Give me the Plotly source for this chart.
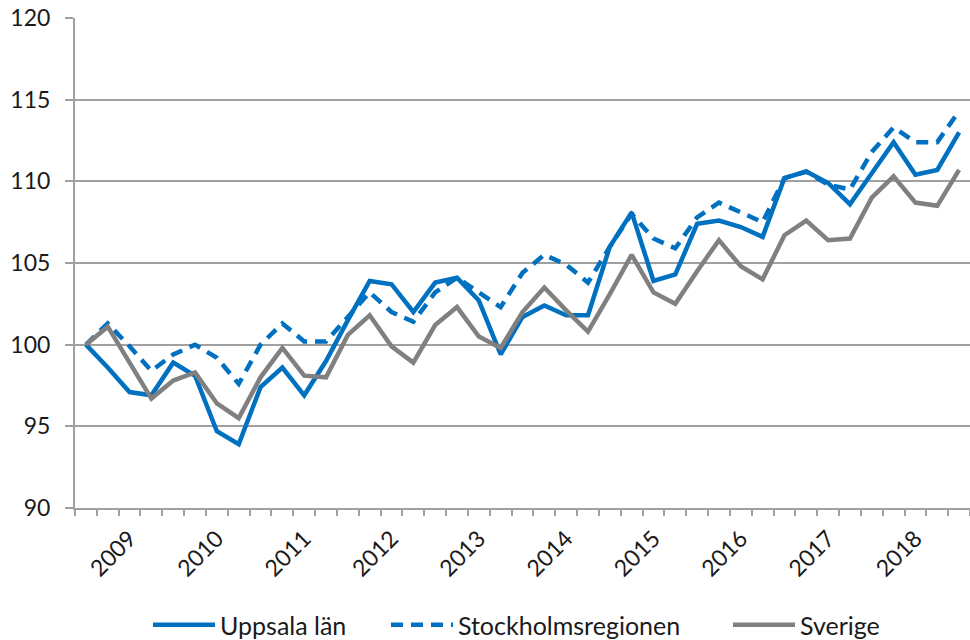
import plotly.graph_objects as go

# Kvartalsindex, 2008 K4 = 100 (41 kvartal)
years = ["2009", "2010", "2011", "2012", "2013", "2014", "2015", "2016", "2017", "2018"]

uppsala = [100, 98.6, 97.1, 96.9, 98.9, 98.1, 94.7, 93.9, 97.4, 98.6,
           96.9, 99.0, 101.5, 103.9, 103.7, 102.0, 103.8, 104.1, 102.7, 99.4,
           101.7, 102.4, 101.8, 101.8, 106.0, 108.1, 103.9, 104.3, 107.4, 107.6,
           107.2, 106.6, 110.2, 110.6, 109.9, 108.6, 110.5, 112.4, 110.4, 110.7,
           113.0]

stockholm = [100, 101.3, 99.9, 98.4, 99.4, 100.0, 99.2, 97.6, 100.0, 101.3,
             100.2, 100.2, 101.7, 103.2, 102.0, 101.4, 103.2, 104.1, 103.2, 102.3,
             104.4, 105.5, 104.9, 103.8, 106.0, 108.0, 106.5, 105.9, 107.8, 108.7,
             108.1, 107.5, 110.2, 110.6, 109.8, 109.5, 111.8, 113.3, 112.4, 112.4,
             114.3]

sverige = [100, 101.1, 98.9, 96.7, 97.8, 98.3, 96.4, 95.5, 98.0, 99.8,
           98.1, 98.0, 100.6, 101.8, 99.9, 98.9, 101.2, 102.3, 100.5, 99.8,
           102.0, 103.5, 102.1, 100.8, 103.1, 105.5, 103.2, 102.5, 104.5, 106.4,
           104.8, 104.0, 106.7, 107.6, 106.4, 106.5, 109.0, 110.3, 108.7, 108.5,
           110.7]

n = len(uppsala)
x = list(range(n))
# year label sits on the second quarter of each year (index 2, 6, 10, ...)
year_pos = [2 + 4 * i for i in range(len(years))]

BLUE = "#0070C0"
GREY = "#808080"
AXIS = "#A0A0A0"
TXT = "#1a1a1a"
FONT = "Lato"

fig = go.Figure()

series = [
    ("Uppsala län", uppsala, BLUE, "solid", "legend"),
    ("Stockholmsregionen", stockholm, BLUE, "12px,8px", "legend2"),
    ("Sverige", sverige, GREY, "solid", "legend3"),
]
for name, vals, col, dash, leg in series:
    fig.add_trace(go.Scatter(
        x=x, y=vals, mode="lines", name=name,
        line=dict(color=col, width=4.5, dash=dash),
        legend=leg, showlegend=True
    ))

# one legend per entry so the entries can sit where the original has them
leg_common = dict(orientation="h", xref="container", yref="container",
                  yanchor="middle", y=0.0234, xanchor="left",
                  font=dict(family=FONT, size=25, color=TXT),
                  itemwidth=62, bgcolor="rgba(0,0,0,0)")

fig.update_layout(
    width=970, height=640,
    margin=dict(l=75, r=0, t=18, b=132),
    plot_bgcolor="white", paper_bgcolor="white",
    font=dict(family=FONT, size=23, color=TXT),
    showlegend=True,
    legend=dict(x=0.1526, **leg_common),
    legend2=dict(x=0.3979, **leg_common),
    legend3=dict(x=0.7505, **leg_common),
)

fig.update_xaxes(
    range=[-0.5, n - 0.5], automargin=False,
    tickmode="array", tickvals=year_pos, ticktext=years,
    tickangle=-45, ticks="", ticklabelstandoff=6,
    showgrid=False, zeroline=False,
    showline=True, linecolor=AXIS, linewidth=2,
    minor=dict(tickmode="array", tickvals=[i - 0.5 for i in range(n + 1)],
               ticks="outside", ticklen=6, tickwidth=2, tickcolor=AXIS,
               showgrid=False),
    tickfont=dict(family=FONT, size=23, color=TXT),
)

fig.update_yaxes(
    range=[90, 120], dtick=5, tick0=90, automargin=False,
    ticklabeloverflow="allow",
    showgrid=True, gridcolor=AXIS, gridwidth=2,
    zeroline=False,
    showline=True, linecolor=AXIS, linewidth=2,
    ticks="outside", ticklen=8, tickwidth=2, tickcolor=AXIS,
    ticklabelstandoff=10,
    tickfont=dict(family=FONT, size=23, color=TXT),
)

# drop the browser's default 8px body margin so the figure fills the window
fig.write_html("out.html", config={"displayModeBar": False},
               post_script="document.body.style.margin='0';")
